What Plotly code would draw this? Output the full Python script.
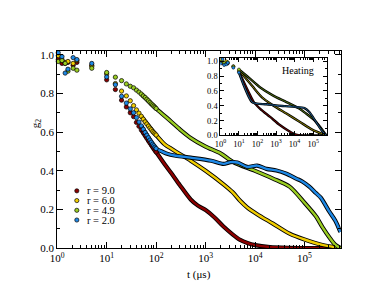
import plotly.graph_objects as go

# ---------------- data ----------------
# sparse marker part of main plot (t in microseconds)
t_pts = [1.05, 1.25, 1.45, 1.65, 2.1, 2.5, 5.0,
         10, 15, 20, 25, 30, 35, 40, 45, 50, 55, 60, 65, 70, 75, 80, 85, 90, 95, 100]
g_r90_pts = [0.975, 0.955, 0.955, 0.96, 0.945, 0.96, 0.945,
             0.87, 0.82, 0.765, 0.73, 0.70, 0.68, 0.65, 0.63, 0.612, 0.597, 0.582, 0.568,
             0.555, 0.544, 0.533, 0.523, 0.514, 0.505, 0.497]
g_r60_pts = [0.995, 0.975, 0.96, 0.965, 0.955, 0.97, 0.94,
             0.90, 0.851, 0.812, 0.787, 0.762, 0.737, 0.715, 0.698, 0.682, 0.667, 0.653, 0.642,
             0.631, 0.621, 0.612, 0.603, 0.597, 0.591, 0.585]
g_r49_pts = [0.965, 0.97, 0.955, 0.915, 0.93, 0.92, 0.93,
             0.908, 0.884, 0.866, 0.849, 0.837, 0.829, 0.817, 0.807, 0.797, 0.787, 0.779, 0.77,
             0.762, 0.754, 0.746, 0.74, 0.734, 0.728, 0.722]
g_r20_pts = [1.01, 0.99, 0.905, 0.925, 0.985, 0.975, 0.955,
             0.885, 0.845, 0.785, 0.75, 0.72, 0.70, 0.675, 0.652, 0.632, 0.615, 0.598, 0.584,
             0.571, 0.559, 0.548, 0.538, 0.53, 0.522, 0.515]

# dense part of main plot (markers merge into a band)
t_r90 = [50, 100, 150, 200, 300, 500, 700, 1000, 1500, 2300, 3500, 5000, 7000, 10000, 20000, 50000, 100000, 540000]
g_r90 = [0.612, 0.497, 0.433, 0.39, 0.327, 0.252, 0.22, 0.197, 0.16, 0.112, 0.072, 0.043, 0.027, 0.016, 0.006, 0.002, 0.001, 0.0]
t_r60 = [50, 100, 150, 200, 300, 500, 1000, 2300, 3500, 5000, 7000, 11000, 23000, 50000, 100000, 230000, 400000, 540000]
g_r60 = [0.682, 0.585, 0.536, 0.515, 0.487, 0.452, 0.40, 0.33, 0.29, 0.245, 0.21, 0.176, 0.127, 0.075, 0.045, 0.017, 0.006, 0.002]
t_r49 = [50, 100, 200, 300, 500, 1000, 2000, 3700, 10000, 23000, 50000, 100000, 170000, 230000, 330000, 420000, 540000]
g_r49 = [0.797, 0.722, 0.655, 0.615, 0.57, 0.525, 0.49, 0.444, 0.40, 0.36, 0.318, 0.235, 0.165, 0.109, 0.05, 0.017, 0.0]
t_r20 = [50, 100, 130, 160, 250, 500, 1300, 2300, 3200, 4400, 7000, 11000, 17000, 27000, 43000, 68000, 90000,
         125000, 170000, 215000, 310000, 420000, 530000]
g_r20 = [0.632, 0.515, 0.50, 0.49, 0.478, 0.468, 0.452, 0.436, 0.445, 0.443, 0.42, 0.427, 0.41, 0.402, 0.385,
         0.36, 0.345, 0.318, 0.285, 0.26, 0.193, 0.142, 0.084]

# inset ("Heating")
ti_pts = [1.05, 1.3, 1.6, 2.1, 2.5, 5.0, 10]
gi_r90_pts = [1.0, 0.98, 0.96, 0.99, 0.97, 0.93, 0.86]
gi_r60_pts = [1.02, 0.99, 0.97, 1.0, 0.98, 0.935, 0.88]
gi_r49_pts = [0.99, 1.01, 0.98, 0.97, 0.99, 0.93, 0.89]
gi_r20_pts = [0.97, 1.03, 0.95, 0.96, 0.98, 0.915, 0.85]
ti_r90 = [10, 34, 63, 140, 480, 1600, 5400, 12000, 30000, 540000]
gi_r90 = [0.86, 0.58, 0.45, 0.36, 0.25, 0.14, 0.053, 0.01, 0.0, 0.0]
ti_r60 = [10, 51, 174, 708, 3630, 18600, 93000, 316000, 540000]
gi_r60 = [0.88, 0.67, 0.515, 0.405, 0.295, 0.185, 0.075, 0.02, 0.0]
ti_r49 = [10, 34, 141, 708, 3630, 18600, 41700, 115000, 316000, 479000, 540000]
gi_r49 = [0.89, 0.78, 0.647, 0.537, 0.45, 0.36, 0.295, 0.207, 0.075, 0.01, 0.0]
ti_r20 = [10, 51, 95, 300, 1000, 3200, 10000, 34000, 62000, 140000, 320000, 540000]
gi_r20 = [0.85, 0.45, 0.43, 0.42, 0.405, 0.395, 0.385, 0.37, 0.317, 0.185, 0.053, 0.0]

labels = ["r = 9.0", "r = 6.0", "r = 4.9", "r = 2.0"]
colors = ["#8b0000", "#f0cc00", "#99cc22", "#1e88e5"]
inset_colors = ["#700000", "#8a8000", "#4f7010", "#1f5a8a"]
x_ticks = [1, 10, 100, 1000, 10000, 100000]
x_ticktext = ["10<sup>%d</sup>" % i for i in range(6)]
x_minor = [m * 10 ** k for k in range(6) for m in range(2, 10) if m * 10 ** k < 540000]

FONT = "Liberation Serif, Times New Roman, serif"

fig = go.Figure()

pts = [g_r90_pts, g_r60_pts, g_r49_pts, g_r20_pts]
dense = [(t_r90, g_r90), (t_r60, g_r60), (t_r49, g_r49), (t_r20, g_r20)]
for i in range(4):
    td, gd = dense[i]
    fig.add_trace(go.Scatter(x=td, y=gd, mode="lines",
                             line=dict(color="black", width=4.2, shape="spline", smoothing=0.8),
                             showlegend=False, hoverinfo="skip", xaxis="x", yaxis="y"))
    fig.add_trace(go.Scatter(x=td, y=gd, mode="lines",
                             line=dict(color=colors[i], width=2.4, shape="spline", smoothing=0.8),
                             showlegend=False, hoverinfo="skip", xaxis="x", yaxis="y"))
for i in range(4):
    fig.add_trace(go.Scatter(x=t_pts, y=pts[i], mode="markers",
                             marker=dict(size=4.3, color=colors[i], line=dict(color="black", width=0.7)),
                             showlegend=False, name=labels[i], xaxis="x", yaxis="y", cliponaxis=False))

ipts = [gi_r90_pts, gi_r60_pts, gi_r49_pts, gi_r20_pts]
idense = [(ti_r90, gi_r90), (ti_r60, gi_r60), (ti_r49, gi_r49), (ti_r20, gi_r20)]
for i in range(4):
    td, gd = idense[i]
    fig.add_trace(go.Scatter(x=td, y=gd, mode="lines",
                             line=dict(color="black", width=2.4, shape="spline", smoothing=0.8),
                             showlegend=False, hoverinfo="skip", xaxis="x2", yaxis="y2"))
    fig.add_trace(go.Scatter(x=td, y=gd, mode="lines",
                             line=dict(color=inset_colors[i], width=1.0, shape="spline", smoothing=0.8),
                             showlegend=False, hoverinfo="skip", xaxis="x2", yaxis="y2"))
for i in range(4):
    fig.add_trace(go.Scatter(x=ti_pts, y=ipts[i], mode="markers",
                             marker=dict(size=3, color=colors[i], line=dict(color="black", width=0.5)),
                             showlegend=False, xaxis="x2", yaxis="y2"))

W, H = 374, 289
main_x = [43 / W, 332 / W]
main_y = [(H - 245) / H, (H - 42) / H]
ins_x = [209.3 / W, 317.7 / W]
ins_y = [(H - 129) / H, (H - 49) / H]

axis_common = dict(showline=True, linecolor="black", linewidth=1, mirror="ticks",
                   ticks="inside", tickcolor="black", showgrid=False, zeroline=False)

fig.update_layout(
    width=W, height=H, margin=dict(l=0, r=0, t=0, b=0),
    paper_bgcolor="white", plot_bgcolor="white",
    font=dict(family=FONT, size=11, color="black"),
    xaxis=dict(type="log", range=[0, 5.733], domain=main_x, anchor="y",
               tickvals=x_ticks, ticktext=x_ticktext, ticklen=6, tickwidth=1,
               minor=dict(tickvals=x_minor, ticklen=3, ticks="inside", tickcolor="black"),
               tickfont=dict(family=FONT, size=11), **axis_common),
    yaxis=dict(range=[0, 1.02], domain=main_y, anchor="x", dtick=0.2, tick0=0,
               tickformat=".1f", ticklen=6,
               minor=dict(dtick=0.1, ticklen=3, ticks="inside", tickcolor="black"),
               tickfont=dict(family=FONT, size=11), **axis_common),
    xaxis2=dict(type="log", range=[0, 5.733], domain=ins_x, anchor="y2",
                tickvals=x_ticks, ticktext=x_ticktext, ticklen=4,
                minor=dict(tickvals=x_minor, ticklen=2, ticks="inside", tickcolor="black"),
                tickfont=dict(family=FONT, size=8.5), **axis_common),
    yaxis2=dict(range=[0, 1.05], domain=ins_y, anchor="x2", dtick=0.2, tick0=0,
                tickformat=".1f", ticklen=4,
                minor=dict(dtick=0.1, ticklen=2, ticks="inside", tickcolor="black"),
                tickfont=dict(family=FONT, size=8.5), **axis_common),
)

ann = [
    dict(text="t (\u03bcs)", x=(43 + 332) / 2 / W, y=(H - 272) / H, xref="paper", yref="paper",
         showarrow=False, font=dict(family=FONT, size=11), xanchor="center", yanchor="middle"),
    dict(text="g<sub>2</sub>", x=21 / W, y=(H - 117) / H, xref="paper", yref="paper",
         showarrow=False, font=dict(family=FONT, size=11), textangle=-90, xanchor="center", yanchor="middle"),
    dict(text="Heating", x=288 / W, y=(H - 62) / H, xref="paper", yref="paper",
         showarrow=False, font=dict(family=FONT, size=10), xanchor="center", yanchor="middle"),
]
shapes = []
for i, lab in enumerate(labels):
    yy = (H - (186 + 10 * i)) / H
    ann.append(dict(text=lab, x=71 / W, y=yy, xref="paper", yref="paper", showarrow=False,
                    font=dict(family=FONT, size=10.5), xanchor="left", yanchor="middle"))
    shapes.append(dict(type="circle", xref="paper", yref="paper", xsizemode="pixel", ysizemode="pixel",
                       xanchor=63 / W, yanchor=yy, x0=-2.1, x1=2.1, y0=-2.1, y1=2.1,
                       fillcolor=colors[i], line=dict(color="black", width=0.7)))
fig.update_layout(annotations=ann, shapes=shapes)

fig.write_html("out.html")
